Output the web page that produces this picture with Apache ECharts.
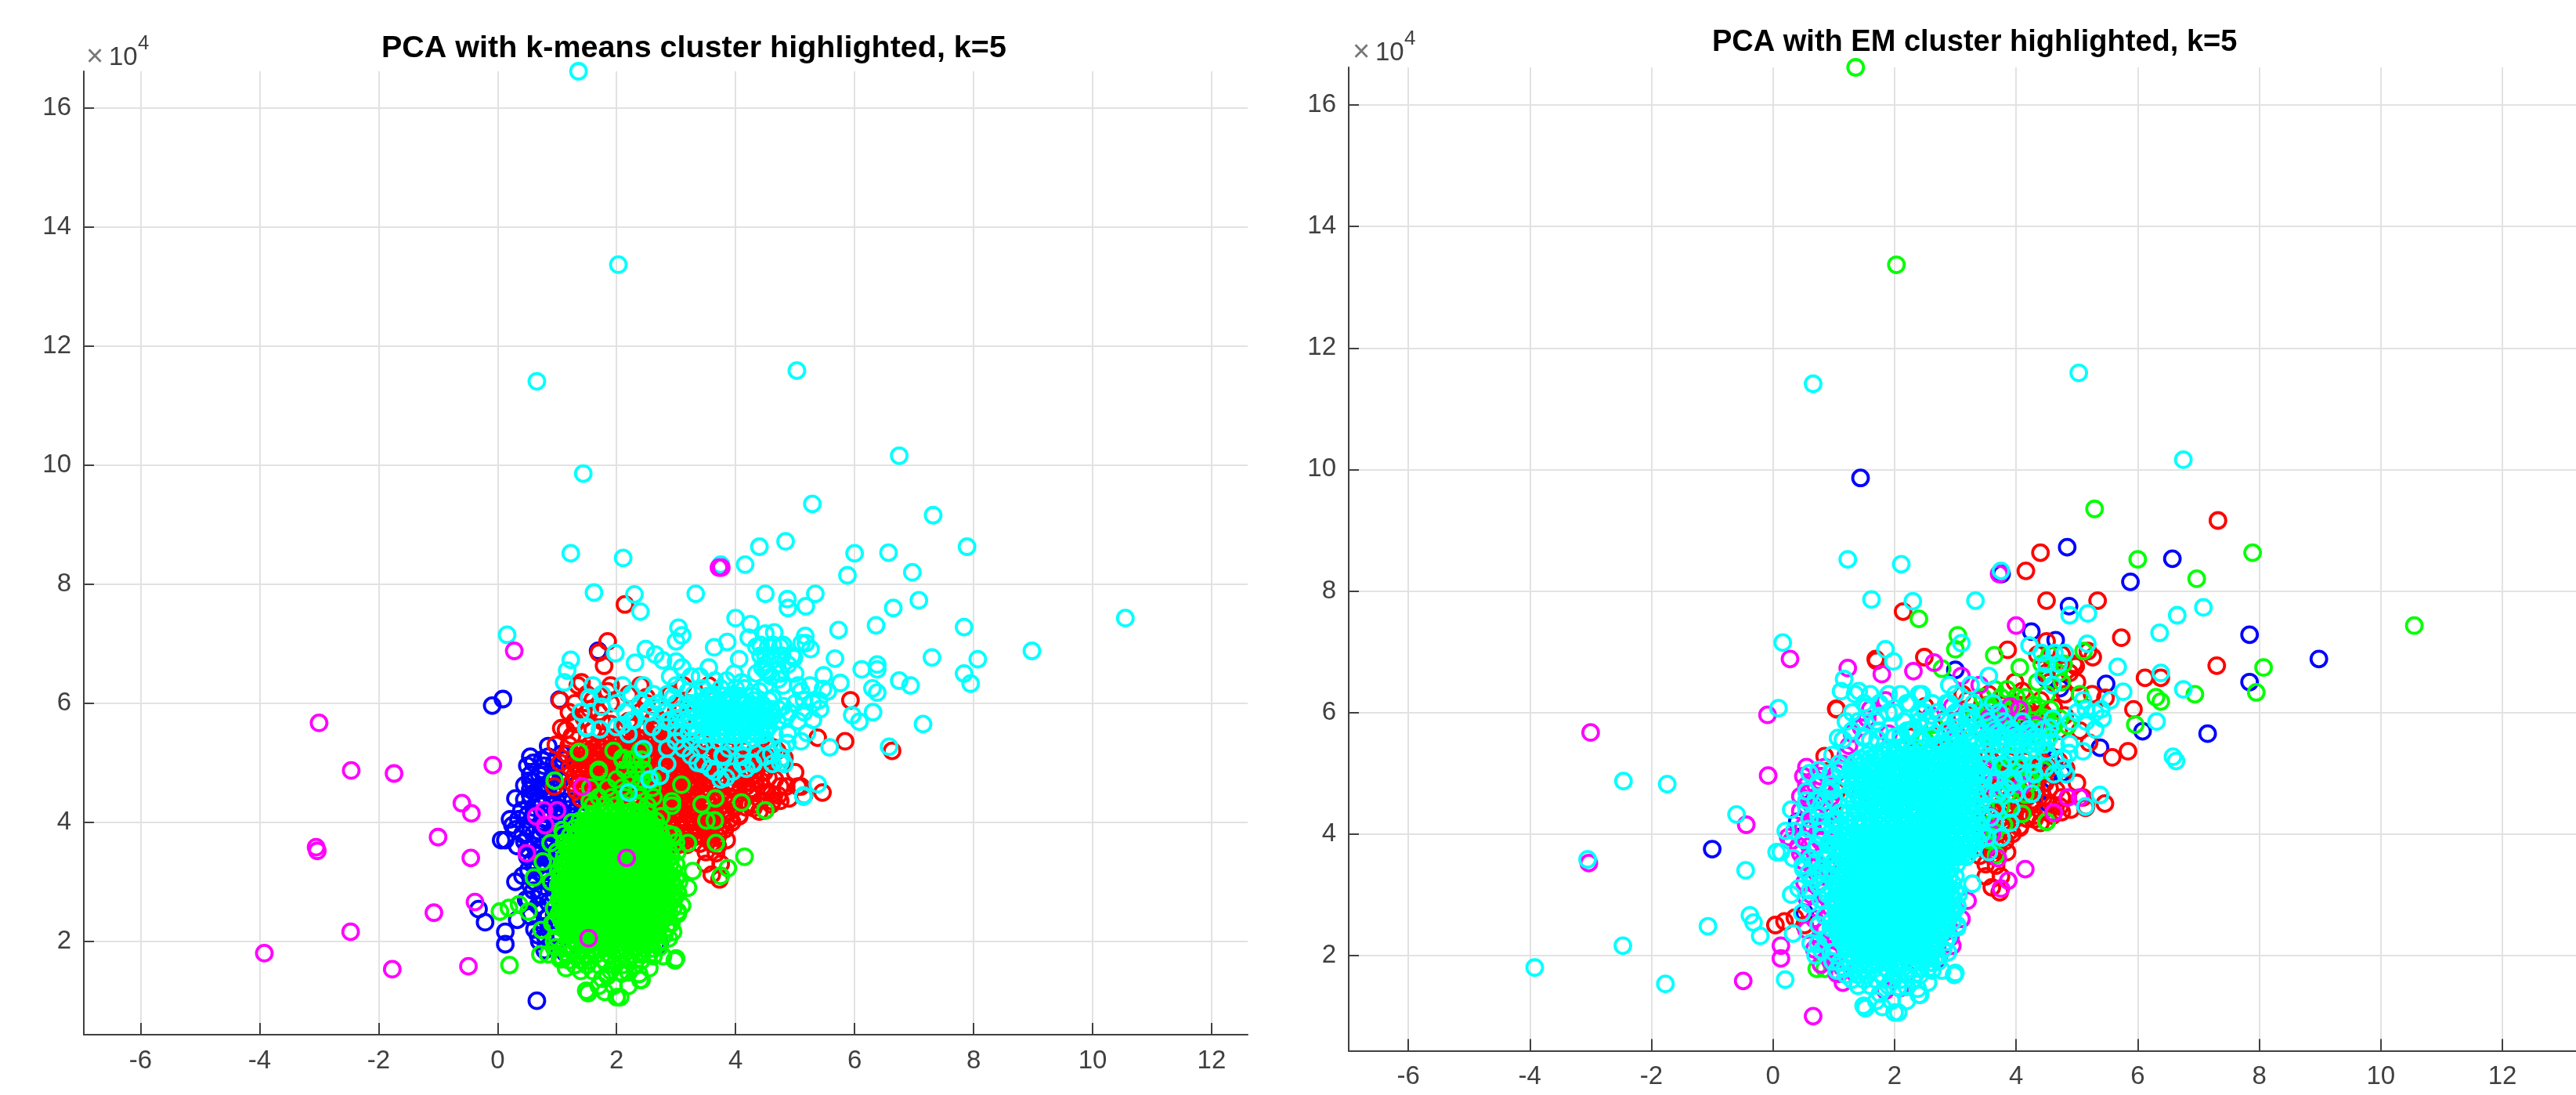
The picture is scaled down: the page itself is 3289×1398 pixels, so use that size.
<!DOCTYPE html>
<html><head><meta charset="utf-8">
<style>html,body{margin:0;padding:0;background:#fff}#c{width:3289px;height:1398px}</style>
<script src="https://cdn.jsdelivr.net/npm/echarts@6/dist/echarts.min.js"></script>
</head><body><div id="c"></div>
<script>
// Shared PCA points, grouped by (k-means cluster, EM cluster). Each row: [y in 1e4, x, x, ...]
const titleKmeans = "PCA with k-means cluster highlighted, k=5";
const titleEM = "PCA with EM cluster highlighted, k=5";
const xTicks = [-6,-4,-2,0,2,4,6,8,10,12];
const yTicks = [2,4,6,8,10,12,14,16];

const km_c_em_c = [[11.41,.66],[11.59,5.03],[10.16,6.75],[8.52,1.23],[8.44,2.11],[8.33,3.75],[7.86,1.62],[7.83,2.3],[7.84,3.33],[7.6,4.88],[7.63,5.18],[7.73,7.08],[7.6,6.65],[7.31,6.36],[7.15,.16],[7.14,3.1],[7.1,4.22],[7.13,5.17],[6.84,1.98],[6.75,5.67],[6.65,6.38],[6.55,1.17],[6.38,6.75],[6.35,1.12],[6.34,5.76],[5.85,6.31],[5.27,6.58],[4.64,5.38],
[6.98,4.42,4.63,4.8],[6.8,4.5,4.7],[6.6,3.55,4.45],[6.45,2.9,3.25,4.6],[6.3,1.6,2.1,2.45,3.0],[6.15,1.75,2.25,2.62,2.85,3.3,3.62],[6.0,2.0,2.4,2.7,3.0,3.25,3.5,3.72,5.0,5.3],[5.85,1.4,2.15,2.55,2.8,3.05,3.3,3.55,3.8,4.1,4.9,5.15],[5.72,2.3,2.9,3.15,3.4,3.65,3.92,4.2,4.45,5.3],[5.6,1.5,2.0,2.6,3.0,3.25,3.5,3.75,4.0,4.3,4.55],[5.48,2.2,2.75,3.1,3.35,3.6,3.85,4.1,4.35,4.65,4.88],[5.36,3.0,3.25,3.5,3.72,3.98,4.22,4.5,5.1],[5.24,2.85,3.12,3.4,3.88,4.12,4.78],[5.12,3.25,3.78],[4.98,2.85,3.45,4.3,4.62,4.82],[4.85,3.65,3.95],[4.72,2.55,3.75],[4.45,5.14],[4.5,2.2],
[5.0,3.36,4.29],[4.9,3.58],[4.75,3.84],[4.98,4.11],[5.1,4.49],[5.08,4.77],[5.33,4.87],[5.23,2.45],[4.78,2.73],[6.09,1.54],[5.94,1.75],[5.58,1.49],[5.56,1.72],[5.63,2.1],[5.71,2.25],[5.86,2.53],[5.69,2.85],[6.05,5.15,5.4],[6.2,5.1,5.55],[5.9,5.42],
[5.66,3.42,3.68,3.94,4.2],[5.53,3.55,3.8,4.06,4.32],[5.6,3.56,3.81,4.07,4.33],[5.47,3.45,3.7,3.94,4.2,4.45],[5.75,3.22,4.55],[5.9,3.2,4.6]];
const km_c_em_g = [[16.62,1.36],[13.37,2.03],[7.54,2.4],[9.35,5.29],[8.2,6.97],[8.63,7.89],[8.52,6.0],[7.43,10.55],[7.27,3.04],[7.04,3.0],[6.94,3.64],[6.74,4.06],[6.74,8.07],[7.01,5.11],[6.33,7.95],[6.3,6.94],[6.25,6.3],[6.18,6.38],[5.8,5.96],
[6.38,3.65,3.85],[6.25,3.45,3.75,4.0,4.15],[6.12,3.55,3.95,4.28],[6.02,3.42,3.85,4.1],[5.9,3.3,3.7,4.5,4.72],[5.78,4.38,4.62,4.85],[5.65,3.55,4.2],[5.52,3.22,3.98,4.5],[5.4,4.3],[5.1,3.8,4.12],[4.9,4.18],[6.72,2.78],
[6.05,3.55,3.8,4.3,4.56],[5.92,3.42,3.94,4.44],[6.95,4.55],[6.8,4.42,4.78],[6.65,4.7],[6.5,4.35,4.75],[6.3,4.5,5.05]];
const km_c_em_r = [[9.16,7.32],[8.63,4.4],[8.33,4.16],[7.84,4.5],[7.84,5.34],[7.23,5.73],[7.17,4.5],[7.03,3.86],[7.01,5.18],[6.91,2.49],[6.91,5.26],[6.77,7.3],[6.76,4.98],[6.57,6.38],[6.57,6.12],[6.24,5.47],[6.5,3.98],[5.26,5.58],[4.43,5.14],[5.95,4.35,4.8],[6.2,3.2,4.4],[6.08,3.62,4.62],[5.7,4.7,5.05],[5.5,3.7,5.2],[6.35,4.1],
[6.12,3.53,3.79,4.05],[5.99,3.42,3.68,3.93,4.18,4.44],[5.86,3.55,3.81,4.07,4.33],[5.73,3.43,3.69,3.95,4.2,4.5],[6.95,4.35,4.75],[6.8,4.6,4.95],[6.65,4.5,4.88],[6.5,4.55,5.0],[6.3,4.8,5.25]];
const km_c_em_b = [[9.86,1.44],[8.72,4.84],[8.53,6.57],[8.15,5.88],[7.75,4.87],[7.33,4.25],[7.28,7.84],[7.19,4.65],[6.88,8.98],[6.5,7.84],[6.47,5.48],[5.65,7.15],[5.69,6.08],[6.7,3.0],[6.55,4.5],[6.4,4.72],[5.15,4.6],[5.0,4.75],[5.92,4.2]];
const km_c_em_m = [[7.43,4.0],[6.73,1.23],[6.82,2.65],[6.68,2.31],[6.6,3.1],[6.45,3.4],[6.1,2.95],[5.95,2.6],[5.75,3.0],[5.9,3.55],[6.1,3.9],[5.65,4.1],[5.79,3.55,3.8,4.06,4.32],[5.92,3.68],[6.05,4.05]];

const km_r_em_c = [[7.04,1.85],[6.35,1.41],[5.58,1.07],[5.3,.98],[5.2,6.63],
[5.42,1.9,2.05,2.2,2.35,2.5,2.65,2.8,2.95,3.1],[5.3,1.55,1.7,1.84,1.98,2.12,2.27,2.42,2.56,2.7,2.85,3.0,3.14],[5.18,1.35,1.5,1.63,1.77,1.9,2.04,2.18,2.32,2.46,2.6,2.74,2.88,3.02,3.16,3.3],[5.05,1.28,1.42,1.56,1.7,1.84,1.98,2.12,2.26,2.4,2.54,2.68,2.82,2.96,3.1,3.24,3.38],[4.92,1.22,1.36,1.5,1.64,1.78,1.92,2.06,2.2,2.34,2.48,2.62,2.76,2.9,3.04,3.18,3.32],[4.79,1.3,1.44,1.58,1.72,1.86,2.0,2.14,2.28,2.42,2.56,2.7,2.84,2.98,3.12,3.26,3.4],[4.66,1.25,1.38,1.52,1.66,1.8,1.94,2.08,2.22,2.36,2.5,2.64,2.78,2.92,3.06,3.2,3.34],[4.53,1.32,1.46,1.6,1.74,1.88,2.02,2.16,2.3,2.44,2.58,2.72,2.86,3.0,3.14,3.28,3.42],[4.4,1.4,1.54,1.68,1.82,1.96,2.1,2.24,2.38,2.52,2.66,2.8,2.94,3.08,3.22,3.36],[4.27,2.46,2.6,2.74,2.88,3.02,3.16,3.3,3.44],[4.14,2.52,2.66,2.8,2.94,3.08,3.22,3.36],[4.01,2.6,2.74,2.88,3.02,3.16,3.3,3.44],[3.88,2.68,2.82,2.96,3.1,3.24,3.38],[3.75,2.74,2.88,3.02,3.16,3.3],[3.62,2.9,3.04,3.18],[4.9,3.46],[4.66,3.48],[4.27,3.58],
[5.36,1.82,2.0,2.28,2.58,2.88,3.18],[5.24,1.44,1.6,1.76,1.92,2.1,2.26,2.42,2.6,2.76,2.92,3.08,3.24],[5.11,1.4,1.56,1.72,1.88,2.04,2.2,2.36,2.52,2.68,2.84,3.0,3.16,3.32],[4.98,1.3,1.48,1.64,1.8,1.96,2.12,2.28,2.44,2.6,2.76,2.92,3.08,3.24],[4.85,1.36,1.52,1.68,1.84,2.0,2.16,2.32,2.48,2.64,2.8,2.96,3.12,3.28],[4.72,1.32,1.48,1.64,1.8,1.96,2.12,2.28,2.44,2.6,2.76,2.92,3.08,3.24],[4.6,1.44,1.6,1.76,1.92,2.08,2.24,2.4,2.56,2.72,2.88,3.04,3.2,3.36],[4.46,1.52,1.68,1.84,2.0,2.16,2.32,2.48,2.64,2.8,2.96,3.12,3.28],[4.33,2.5,2.66,2.82,2.98,3.14,3.3],[4.2,2.56,2.72,2.88,3.04,3.2,3.36],[4.07,2.64,2.8,2.96,3.12,3.28],[3.94,2.7,2.86,3.02,3.18,3.34],[3.81,2.78,2.94,3.1,3.26],[3.68,2.84,3.0,3.14],
[5.55,1.15,1.6,2.1,2.45,2.9,3.3],[5.7,1.3,1.75,2.2,2.6,3.1],[5.85,1.2,1.7,2.4,3.0],[6.0,1.3,1.9,2.5,3.2],[6.15,1.5,2.2,2.9],[6.3,1.35,1.9,2.4],
[5.14,3.5,3.76,4.02,4.28],[4.9,3.68,3.96],[4.66,3.7,3.98,4.26],[4.42,3.66,3.92],[4.18,3.65,3.9],[3.94,3.52,3.76],[3.7,3.55]];
const km_r_em_r = [[7.66,2.14],[6.85,1.7],[6.05,5.93],[5.36,5.84],[4.5,5.46],[4.18,4.4],[4.1,4.06],[3.48,3.67],[3.12,3.6],[3.04,3.73],[4.4,4.9],[4.45,5.15,4.72],[4.3,4.6,4.3],[4.25,4.18],[4.05,3.9],[5.0,3.68,3.95,4.25],[5.15,3.82,4.4],[4.75,3.7,4.0,4.55],[4.55,3.95,4.3],[4.35,3.7,3.98],[4.1,3.62],[3.85,3.72],[3.7,3.85],[5.3,3.55,4.55],[5.6,2.25,2.7,3.05],[5.9,2.85,3.1],[6.1,2.5],[6.05,1.05],[6.3,3.12,3.55],
[5.2,3.6,3.88,4.15,4.42,4.7],[5.08,3.72,4.0,4.28,4.55,4.82],[4.96,3.55,3.82,4.08,4.35,4.62],[4.84,3.66,3.94,4.2,4.48,5.0],[4.72,3.52,3.78,4.06,4.34,4.66],[4.6,3.64,3.92,4.18,4.45,4.75,5.1],[4.48,3.5,3.76,4.04,4.24,4.6],[4.36,3.6,3.86,4.12,4.42,4.75],[4.24,3.48,3.72,3.98,4.3],[4.12,3.58,3.82,4.06],[4.0,3.46,3.7,3.94],[3.88,3.58,3.82],[3.76,3.46,3.7],[3.64,3.4,3.6],[3.5,3.5],[3.3,3.5,3.75]];
const km_r_em_g = [[5.25,3.7,4.1],[5.05,3.55,3.85,4.45],[4.85,3.9,4.25],[4.65,3.6,3.85,4.15],[4.45,3.75],[4.15,3.55,3.8],[4.2,4.5],[3.9,3.55],[5.55,2.5],[5.8,2.65]];
const km_r_em_m = [[5.05,3.48],[4.8,3.62,4.1],[4.6,4.85,5.05],[4.3,3.55],[4.0,3.6],[5.65,1.3,1.9],[5.9,1.55],[6.2,1.85],[5.45,1.25],[5.0,1.05],[4.6,.95],[3.6,3.7],[6.63,1.79],[4.35,4.62],[5.3,1.2],[5.15,1.15],[5.75,1.45],[6.05,1.6]];
const km_r_em_b = [[5.42,5.38],[5.0,4.55],[4.7,4.42],[5.25,4.65],[4.5,4.53],[3.78,3.55]];

const km_g_em_c = [
[1.06,2.0,2.06],[1.13,1.52],[1.17,1.49],[1.35,2.4,2.42],[1.37,1.76],[1.45,2.38],[1.48,2.06,2.2],[1.5,1.4,1.6,1.9],[1.6,.2,1.3,1.5,1.7,1.95,2.1,2.3],[1.68,2.98,1.2,1.4,1.55,1.8,2.0,2.2,2.42],[1.71,3.0],[1.78,1.18,1.36,1.5,1.66,1.86,2.06,2.24,2.4,2.55],[1.88,1.1,1.28,1.44,1.58,1.74,1.88,2.02,2.16,2.3,2.46,2.6],
[1.98,1.3,1.42,1.55,1.68,1.8,1.93,2.06,2.19,2.32,2.45,2.58,2.7],[2.1,1.2,1.34,1.48,1.61,1.74,1.87,2.0,2.13,2.26,2.39,2.52,2.65,2.8],[2.22,1.14,1.27,1.4,1.53,1.66,1.79,1.92,2.05,2.18,2.31,2.44,2.57,2.7,2.84],[2.34,1.08,1.21,1.34,1.47,1.6,1.73,1.86,1.99,2.12,2.25,2.38,2.51,2.64,2.76],[2.46,1.03,1.16,1.29,1.42,1.55,1.68,1.81,1.94,2.07,2.2,2.33,2.46,2.59,2.72,2.85,3.03],[2.58,1.08,1.21,1.34,1.47,1.6,1.73,1.86,1.99,2.12,2.25,2.38,2.51,2.64,2.77,2.88],[2.7,1.03,1.16,1.29,1.42,1.55,1.68,1.81,1.94,2.07,2.2,2.33,2.46,2.59,2.72,2.85,2.96],[2.82,1.06,1.19,1.32,1.45,1.58,1.71,1.84,1.97,2.1,2.23,2.36,2.49,2.62,2.75,2.88,3.03],[2.94,1.02,1.15,1.28,1.41,1.54,1.67,1.8,1.93,2.06,2.19,2.32,2.45,2.58,2.71,2.84,2.97],[3.06,1.05,1.18,1.31,1.44,1.57,1.7,1.83,1.96,2.09,2.22,2.35,2.48,2.61,2.74,2.87,3.0],[3.18,1.02,1.15,1.28,1.41,1.54,1.67,1.8,1.93,2.06,2.19,2.32,2.45,2.58,2.71,2.84,2.96,3.28],[3.3,1.08,1.21,1.34,1.47,1.6,1.73,1.86,1.99,2.12,2.25,2.38,2.51,2.64,2.77,2.9],[3.42,1.12,1.25,1.38,1.51,1.64,1.77,1.9,2.03,2.16,2.29,2.42,2.55,2.68,2.81,2.92],[3.54,1.18,1.31,1.44,1.57,1.7,1.83,1.96,2.09,2.22,2.35,2.48,2.61,2.74,2.87],[3.66,1.12,1.25,1.38,1.51,1.64,1.77,1.9,2.03,2.16,2.29,2.42,2.55,2.68,2.8,3.0],[3.78,1.22,1.35,1.48,1.61,1.74,1.87,2.0,2.13,2.26,2.39,2.52,2.65,2.75,2.95],[3.9,1.3,1.43,1.56,1.69,1.82,1.95,2.08,2.21,2.34,2.47,2.6,2.72],[4.02,1.38,1.51,1.64,1.77,1.9,2.03,2.16,2.29,2.42,2.55,2.66],[4.14,1.5,1.63,1.76,1.89,2.02,2.15,2.28,2.41,2.54],[4.28,1.6,1.8,1.98,2.16,2.36,2.52,2.93],[4.42,1.7,1.92,2.14,2.38,2.62],[4.58,1.56,1.85,2.1,2.36,2.6],[4.72,2.0,2.25,2.42,2.6],[4.88,2.14,2.32,2.45,1.7],[5.05,2.3,2.42,2.1,2.25],[5.2,1.95,2.4],[4.78,2.73],[4.63,3.09],[4.35,2.93],[3.65,3.2],[3.34,.76],[3.07,.61],[3.65,.89],[3.87,1.09],[4.7,.96],[5.18,1.37],[2.19,.74],[2.8,3.03],[2.5,3.03],
[2.04,1.27,1.41,1.54,1.67,1.8,1.93,2.06,2.19,2.32,2.45,2.58],[2.16,1.2,1.33,1.46,1.59,1.72,1.85,1.98,2.11,2.24,2.37,2.5,2.63],[2.28,1.11,1.24,1.37,1.5,1.63,1.76,1.89,2.02,2.15,2.28,2.41,2.54,2.67],[2.4,1.05,1.18,1.31,1.44,1.57,1.7,1.83,1.96,2.09,2.22,2.35,2.48,2.61,2.74],[2.52,1.1,1.23,1.36,1.49,1.62,1.75,1.88,2.01,2.14,2.27,2.4,2.53,2.66,2.79],[2.64,1.05,1.18,1.31,1.44,1.57,1.7,1.83,1.96,2.09,2.22,2.35,2.48,2.61,2.74,2.87],[2.76,1.1,1.23,1.36,1.49,1.62,1.75,1.88,2.01,2.14,2.27,2.4,2.53,2.66,2.79,2.92],[2.88,1.05,1.18,1.31,1.44,1.57,1.7,1.83,1.96,2.09,2.22,2.35,2.48,2.61,2.74,2.87],[3.0,1.09,1.22,1.35,1.48,1.61,1.74,1.87,2.0,2.13,2.26,2.39,2.52,2.65,2.78,2.91],[3.12,1.05,1.18,1.31,1.44,1.57,1.7,1.83,1.96,2.09,2.22,2.35,2.48,2.61,2.74,2.87],[3.24,1.12,1.25,1.38,1.51,1.64,1.77,1.9,2.03,2.16,2.29,2.42,2.55,2.68,2.81],[3.36,1.16,1.29,1.42,1.55,1.68,1.81,1.94,2.07,2.2,2.33,2.46,2.59,2.72,2.85],[3.48,1.22,1.35,1.48,1.61,1.74,1.87,2.0,2.13,2.26,2.39,2.52,2.65,2.78],[3.6,1.2,1.33,1.46,1.59,1.72,1.85,1.98,2.11,2.24,2.37,2.5,2.63,2.76],[3.72,1.28,1.41,1.54,1.67,1.8,1.93,2.06,2.19,2.32,2.45,2.58,2.7],[3.84,1.36,1.49,1.62,1.75,1.88,2.01,2.14,2.27,2.4,2.53,2.64],[3.96,1.44,1.57,1.7,1.83,1.96,2.09,2.22,2.35,2.48,2.6],[4.08,1.56,1.69,1.82,1.95,2.08,2.21,2.34,2.47],
[1.9,.98,2.72],[1.75,1.05,2.62,2.78],[1.55,2.55],[1.25,1.7,2.2,1.95],[1.15,1.8],[2.05,1.0,2.88],[2.3,.92,2.88],[2.55,.95,2.95],[2.75,2.98],[3.0,.9,3.05],[3.3,3.0],[3.5,1.0,3.02],[3.8,1.1,2.88],[4.0,1.25],[4.1,2.75]];
const km_g_em_m = [[1.42,1.85],[1.46,2.09],[1.7,2.2],[2.16,2.95],[3.42,4.15],[3.23,3.87],[3.1,3.75],[2.9,3.2],[2.6,3.1],[2.3,2.92],[1.55,1.15],[1.7,1.05,1.09],[2.0,.95],[2.3,.95],[1.96,2.7],[4.86,2.45],[4.35,1.55]];
const km_g_em_r = [[2.5,.04,.52],[2.56,.19],[2.62,.36]];
const km_g_em_g = [[1.78,.85,.72],[3.65,3.67],[4.33,4.1],[4.2,4.5],[4.3,3.43],[4.4,3.66],[4.03,3.51,3.65],[5.18,1.37],[4.85,1.7],[5.08,2.1]];

const km_b_em_c = [[6.07,.09],[3.7,.06,.13],[3.0,.3],[2.54,-.32],[2.32,-.21],[5.15,1.08],[5.0,.6,.95],[4.85,.75],[4.7,.55,.9],[4.55,.7,1.0],[4.4,.3,.82],[4.25,.6,1.02],[4.05,.21,.35,.8],[3.9,.5,.95],[3.75,.7],[3.6,.33,.62,.85],[3.42,.5,.78,.95],[3.25,.68],[3.1,.42,.85],[2.85,.6],[2.7,.48],[2.5,.75],[2.36,.33],[2.2,.62],[2.08,.8],[1.95,2.66],
[5.05,.75,1.1],[4.82,.95,1.15],[4.55,.55,.85],[4.3,.75],[4.08,.58,.98],[3.82,.72,.9],[3.55,.72,1.0],[3.35,.58,.9],[3.15,.75],[2.92,.78,.98],[2.65,.85],[2.45,.95],[2.28,.9],[2.0,.7],
[4.35,1.1,1.25,1.4,1.55],[4.22,1.05,1.2,1.35,1.5],[4.1,1.1,1.25,1.4],[3.95,1.0,1.15,1.3],[3.8,1.02]];
const km_b_em_m = [[5.96,-.09],[2.16,.13],[1.95,.13],[1.0,.66],[5.1,.55,.85],[4.8,.55,.7],[4.62,.45,.72],[4.45,.55],[4.28,.72,.9],[4.12,.5],[3.95,.25,.72],[3.8,.42,.6],[3.55,.5],[3.3,.82],[2.95,.55],[2.6,.68],[2.25,.78],[1.85,.79],[1.8,1.14],
[4.95,.5,.78],[4.68,.6,.88],[4.38,.45,.68,.92],[4.15,.62,.85],[3.88,.3,.78,1.0],[3.68,.45,.9],[3.45,.65,.9],[3.2,.52,.78,1.0],[3.0,.62,.9],[2.78,.7,.95],[2.42,.55,.85],[2.1,.68,.95],[1.9,.95]];
const km_b_em_r = [[6.06,1.04],[6.88,1.69],[5.28,.85],[4.7,1.05],[4.35,1.0]];
const km_b_em_b = [[4.5,.62],[2.7,.52],[4.2,.4],[1.95,2.72]];

const km_m_em_m = [[6.88,.28],[5.67,-3.0],[4.96,-.08],[4.15,-.44],[3.52,-3.03],[1.58,-.49],[8.28,3.72],[4.6,1.42],[4.1,.65]];
const km_m_em_c = [[4.87,-2.46],[4.82,-1.74],[4.32,-.6],[3.58,-3.05],[3.4,-.45],[3.48,.49],[2.66,-.38],[2.48,-1.07],[2.16,-2.47],[1.8,-3.92],[1.53,-1.77],[3.4,2.17],[2.05,1.53],[4.2,.78,1.0],[3.95,.8]];
const km_m_em_b = [[3.75,-1.0],[8.28,3.76]];

const groups = {cc:km_c_em_c,cg:km_c_em_g,cr:km_c_em_r,cb:km_c_em_b,cm:km_c_em_m,
  rc:km_r_em_c,rr:km_r_em_r,rg:km_r_em_g,rm:km_r_em_m,rb:km_r_em_b,
  gc:km_g_em_c,gm:km_g_em_m,gr:km_g_em_r,gg:km_g_em_g,
  bc:km_b_em_c,bm:km_b_em_m,br:km_b_em_r,bb:km_b_em_b,
  mm:km_m_em_m,mc:km_m_em_c,mb:km_m_em_b};

const palette = {r:'#ff0000',g:'#00ff00',b:'#0000ff',c:'#00ffff',m:'#ff00ff'};
const expand = rows => rows.flatMap(r => r.slice(1).map(x => [x, r[0]]));
const pick = (idx, letter) => Object.keys(groups).filter(k => k[idx]===letter).flatMap(k => expand(groups[k]));

const FONT = '"Liberation Sans", Arial, sans-serif';
const axisColor = '#404040';
const gridColor = '#e2e2e2';

function axes(i, xMin, xMax, yMin){
  return {
    x:{gridIndex:i,type:'value',min:xMin,max:xMax,
      axisLine:{show:true,onZero:false,lineStyle:{color:axisColor,width:2}},
      axisTick:{show:true,inside:true,length:15,customValues:xTicks,lineStyle:{color:axisColor,width:2}},
      axisLabel:{show:true,customValues:xTicks,color:axisColor,fontSize:33,fontFamily:FONT,margin:17,showMinLabel:true,showMaxLabel:true,hideOverlap:false},
      splitLine:{show:true,lineStyle:{color:gridColor,width:2}}},
    y:{gridIndex:i,type:'value',min:yMin,max:16.62,
      axisLine:{show:true,onZero:false,lineStyle:{color:axisColor,width:2}},
      axisTick:{show:true,inside:true,length:13,customValues:yTicks,lineStyle:{color:axisColor,width:2}},
      axisLabel:{show:true,customValues:yTicks,color:axisColor,fontSize:33,fontFamily:FONT,margin:16,hideOverlap:false},
      splitLine:{show:true,lineStyle:{color:gridColor,width:2}}}
  };
}
function seriesFor(i, idx, order){
  return order.map(l => ({type:'scatter',xAxisIndex:i,yAxisIndex:i,name:l,clip:false,symbol:'circle',symbolSize:20,
    large:false,progressive:0,animation:false,silent:true,
    itemStyle:{color:'rgba(0,0,0,0)',borderColor:palette[l],borderWidth:3.8,opacity:1},
    data:pick(idx,l)}));
}
function scaleLabel(x, yDigit){
  const t=(text,dx,dy,size,fill)=>({type:'text',x:x+dx,y:yDigit+dy,silent:true,
    style:{text,fontSize:size,fontFamily:FONT,fill,align:'left',verticalAlign:'middle'}});
  return [t('×',0,0,38,'#777777'),t('10',29,0,33,axisColor),t('4',66,-18,26,axisColor)];
}
const a0=axes(0,-6.954,12.606,0.43), a1=axes(1,-6.98,13.21,0.43);
const chart=echarts.init(document.getElementById('c'),null,{renderer:'canvas'});
chart.setOption({
  animation:false,backgroundColor:'#fff',
  title:[
    {text:titleKmeans,left:487,top:42,padding:0,textStyle:{fontSize:39.5,fontWeight:'bold',color:'#000',fontFamily:FONT}},
    {text:titleEM,left:2186,top:36,padding:0,textStyle:{fontSize:38,fontWeight:'bold',color:'#000',fontFamily:FONT}}
  ],
  grid:[
    {left:107,width:1486,top:91,height:1230,containLabel:false},
    {left:1722,width:1567,top:86,height:1255.5,containLabel:false}
  ],
  xAxis:[a0.x,a1.x],yAxis:[a0.y,a1.y],
  series:[...seriesFor(0,0,['b','r','g','c','m']),...seriesFor(1,1,['b','r','g','m','c'])],
  graphic:[...scaleLabel(110,74),...scaleLabel(1727,68)]
});
</script></body></html>
